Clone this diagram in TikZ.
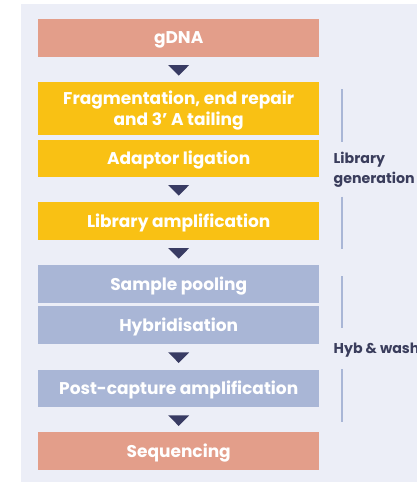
\documentclass[tikz,border=0pt]{standalone}
\usepackage{fontspec}
\setmainfont{Poppins}
\usetikzlibrary{calc}
\definecolor{salmon}{HTML}{E39E8A}
\definecolor{gold}{HTML}{F9C114}
\definecolor{bluegray}{HTML}{A9B6D6}
\definecolor{panel}{HTML}{ECEEF7}
\definecolor{navy}{HTML}{383B63}
\definecolor{labtext}{HTML}{3A3D5C}
\begin{document}
\begin{tikzpicture}[x=1pt,y=-1pt,
  stepbox/.style={minimum width=281pt,inner sep=0pt,anchor=north west},
  steptext/.style={align=center,text=white,inner sep=0pt,yshift=-2pt,
    font=\fontsize{17}{21}\selectfont\bfseries},
  tri/.style={fill=navy,draw=none},
  bracket/.style={draw=bluegray,line width=2pt},
  sidelabel/.style={anchor=north west,align=left,inner sep=0pt,text=labtext,
    font=\fontsize{14.2}{19.5}\selectfont\bfseries}]
\useasboundingbox (0,0) rectangle (417,482);
\fill[white] (0,0) rectangle (417,482);
\fill[panel] (21,4) rectangle (420,482);
% boxes
\node[stepbox,fill=salmon,minimum height=37.7pt,label={[steptext]center:gDNA}] (g) at (38,19) {};
\node[stepbox,fill=gold,minimum height=52.7pt,label={[steptext]center:{Fragmentation, end repair\\and 3' A tailing}}] (f) at (38,82) {};
\node[stepbox,fill=gold,minimum height=37.4pt,label={[steptext]center:Adaptor ligation}] (a) at (38,139.3) {};
\node[stepbox,fill=gold,minimum height=37.7pt,label={[steptext]center:Library amplification}] (l) at (38,202) {};
\node[stepbox,fill=bluegray,minimum height=37.7pt,label={[steptext]center:Sample pooling}] (s) at (38,265) {};
\node[stepbox,fill=bluegray,minimum height=37.7pt,label={[steptext]center:Hybridisation}] (h) at (38,306) {};
\node[stepbox,fill=bluegray,minimum height=37.4pt,label={[steptext]center:Post-capture amplification}] (p) at (38,369.3) {};
\node[stepbox,fill=salmon,minimum height=37.7pt,label={[steptext]center:Sequencing}] (q) at (38,432) {};
% arrows (triangles)
\foreach \y/\n in {65/t1,185/t2,248/t3,352.3/t4,415.3/t5}{
  \coordinate (\n) at (178.7,\y);
  \fill[tri] ($(\n)+(-10.5,0)$) -- ($(\n)+(10.5,0)$) -- ($(\n)+(0,10.7)$) -- cycle;
}
% brackets
\coordinate (b1s) at (341.7,89); \coordinate (b1e) at (341.7,142);
\coordinate (b2s) at (341.7,196.7); \coordinate (b2e) at (341.7,249.3);
\coordinate (b3s) at (341.7,276); \coordinate (b3e) at (341.7,328.3);
\coordinate (b4s) at (341.7,369.3); \coordinate (b4e) at (341.7,421.7);
\draw[bracket] (b1s) -- (b1e);
\draw[bracket] (b2s) -- (b2e);
\draw[bracket] (b3s) -- (b3e);
\draw[bracket] (b4s) -- (b4e);
\node[sidelabel] (lg) at (333.5,152) {Library\\generation};
\node[sidelabel] (hw) at (333.5,342.5) {Hyb \& wash};
\end{tikzpicture}
\end{document}
